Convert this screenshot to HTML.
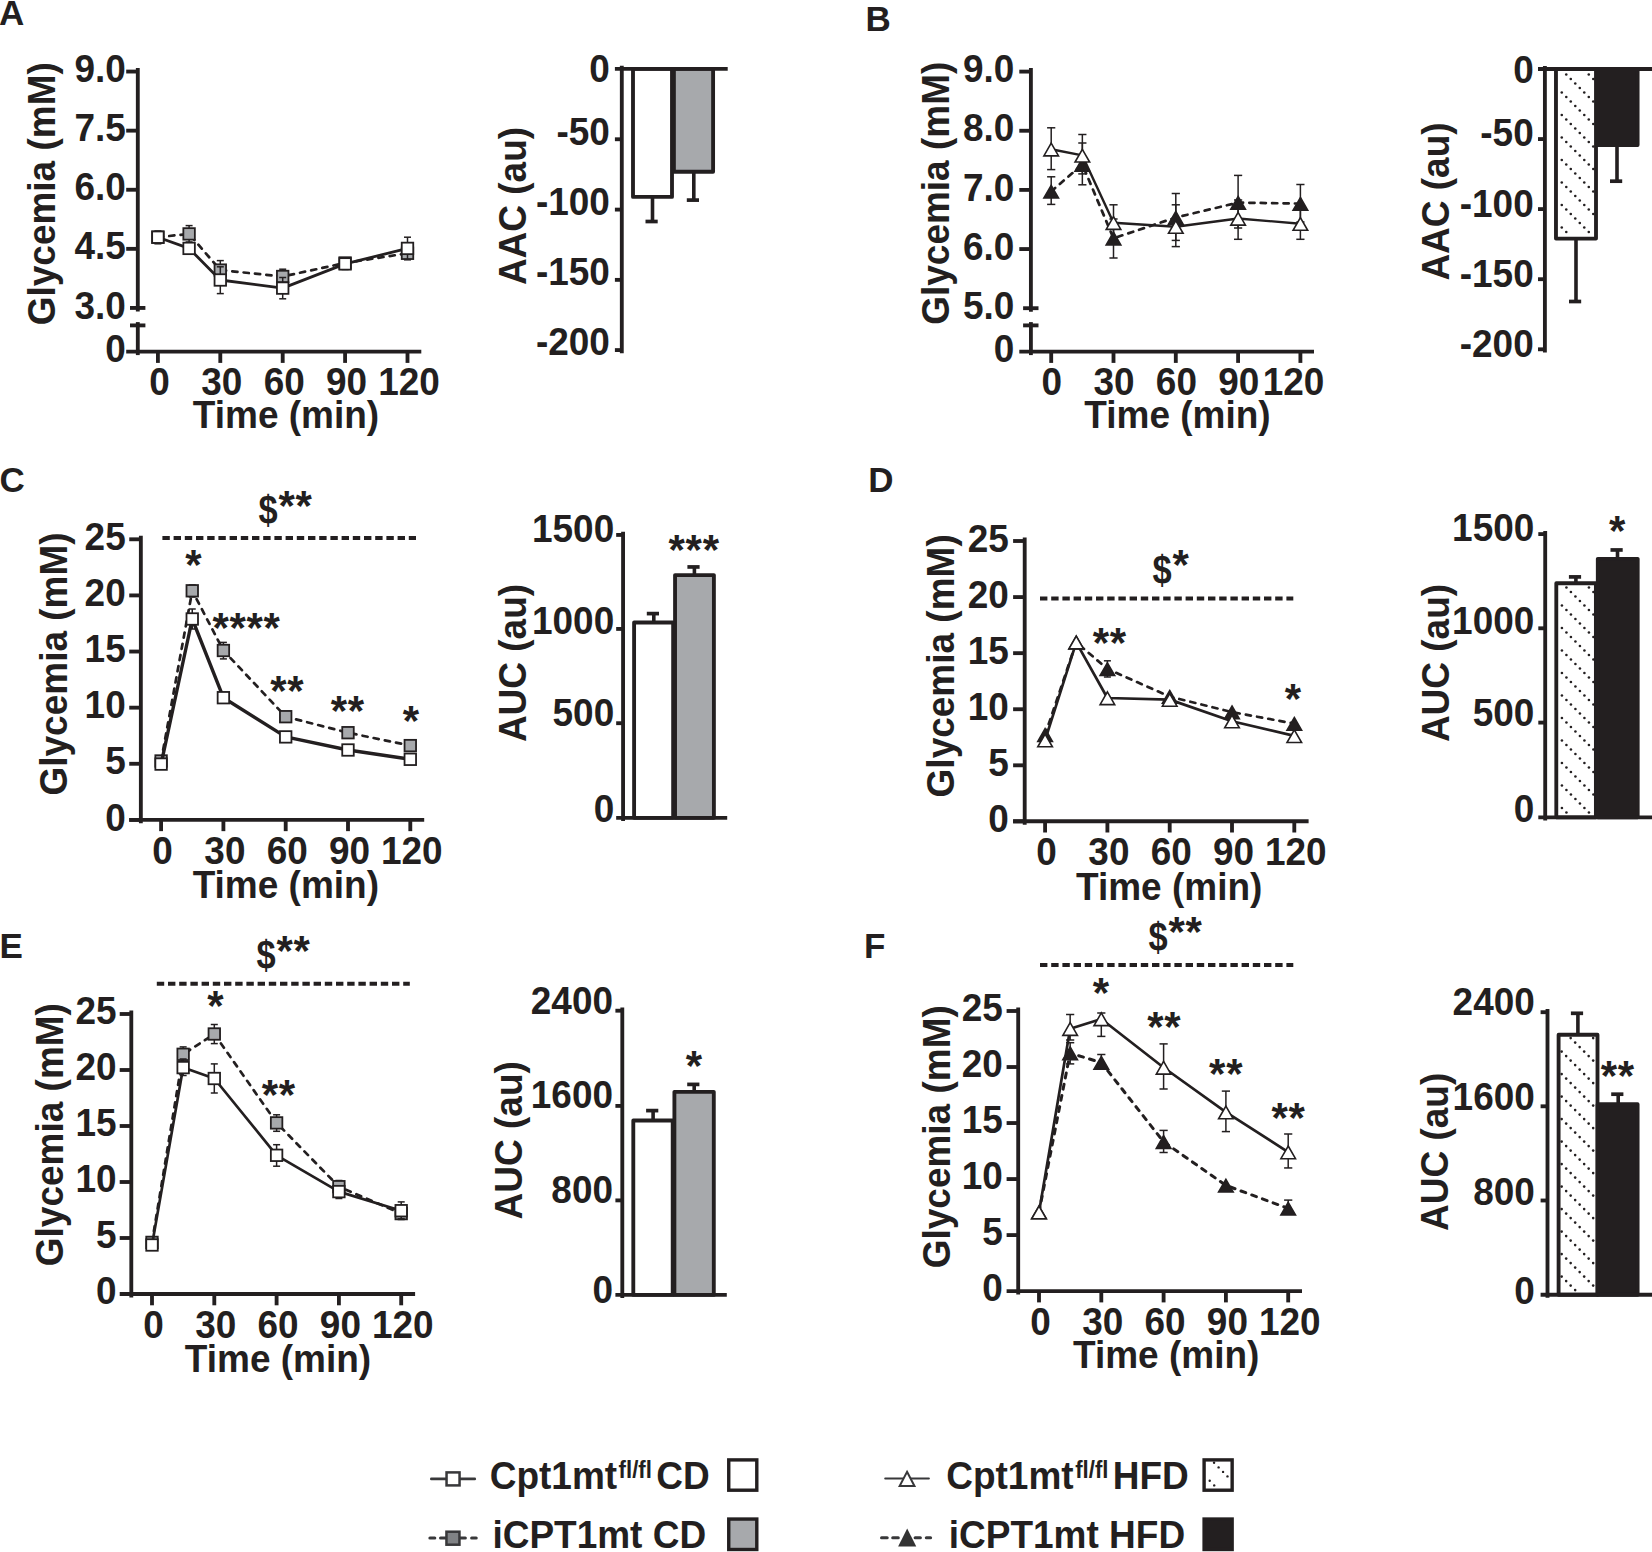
<!DOCTYPE html>
<html lang="en"><head><meta charset="utf-8"><title>Figure</title>
<style>html,body{margin:0;padding:0;background:#fff}svg{display:block}text{font-family:"Liberation Sans", Arial, Helvetica, sans-serif;font-weight:700;fill:#231f20;stroke:none}</style></head><body>
<svg width="1652" height="1552" viewBox="0 0 1652 1552" stroke="#231f20" fill="#231f20">
<rect x="0" y="0" width="1652" height="1552" fill="#fff" stroke="none"/>
<text x="-0.9" y="24.8" font-size="35" text-anchor="start">A</text>
<text x="865.6" y="30.9" font-size="35" text-anchor="start">B</text>
<text x="-0.4" y="492.3" font-size="35" text-anchor="start">C</text>
<text x="868.2" y="492.1" font-size="35" text-anchor="start">D</text>
<text x="-0.4" y="958.1" font-size="35" text-anchor="start">E</text>
<text x="864.1" y="957.8" font-size="35" text-anchor="start">F</text>
<g>
<path d="M157.9 237.2L189.1 233.9L220.3 270.1L282.7 276.5L345.1 263L407.5 253.3" fill="none" stroke-width="2.7" stroke-dasharray="5.2 6.2" stroke-linecap="round" stroke-linejoin="round"/>
<line x1="189.1" y1="225.6" x2="189.1" y2="242" stroke-width="1.5"/>
<line x1="185.6" y1="225.6" x2="192.6" y2="225.6" stroke-width="1.5"/>
<line x1="185.6" y1="242" x2="192.6" y2="242" stroke-width="1.5"/>
<line x1="220.3" y1="260.6" x2="220.3" y2="279" stroke-width="1.5"/>
<line x1="216.8" y1="260.6" x2="223.8" y2="260.6" stroke-width="1.5"/>
<line x1="216.8" y1="279" x2="223.8" y2="279" stroke-width="1.5"/>
<line x1="282.7" y1="269.2" x2="282.7" y2="284" stroke-width="1.5"/>
<line x1="279.2" y1="269.2" x2="286.2" y2="269.2" stroke-width="1.5"/>
<line x1="279.2" y1="284" x2="286.2" y2="284" stroke-width="1.5"/>
<line x1="345.1" y1="258" x2="345.1" y2="268" stroke-width="1.5"/>
<line x1="341.6" y1="258" x2="348.6" y2="258" stroke-width="1.5"/>
<line x1="341.6" y1="268" x2="348.6" y2="268" stroke-width="1.5"/>
<line x1="407.5" y1="247" x2="407.5" y2="259.6" stroke-width="1.5"/>
<line x1="404" y1="247" x2="411" y2="247" stroke-width="1.5"/>
<line x1="404" y1="259.6" x2="411" y2="259.6" stroke-width="1.5"/>
<rect x="152.15" y="231.45" width="11.5" height="11.5" fill="#a7a9ac" stroke-width="1.8"/>
<rect x="183.35" y="228.15" width="11.5" height="11.5" fill="#a7a9ac" stroke-width="1.8"/>
<rect x="214.55" y="264.35" width="11.5" height="11.5" fill="#a7a9ac" stroke-width="1.8"/>
<rect x="276.95" y="270.75" width="11.5" height="11.5" fill="#a7a9ac" stroke-width="1.8"/>
<rect x="339.35" y="257.25" width="11.5" height="11.5" fill="#a7a9ac" stroke-width="1.8"/>
<rect x="401.75" y="247.55" width="11.5" height="11.5" fill="#a7a9ac" stroke-width="1.8"/>
<path d="M157.9 237.2L189.1 248.4L220.3 280L282.7 288.1L345.1 263.9L407.5 248.4" fill="none" stroke-width="2.8" stroke-linejoin="round"/>
<line x1="157.9" y1="231" x2="157.9" y2="243.8" stroke-width="1.5"/>
<line x1="154.4" y1="231" x2="161.4" y2="231" stroke-width="1.5"/>
<line x1="154.4" y1="243.8" x2="161.4" y2="243.8" stroke-width="1.5"/>
<line x1="189.1" y1="243" x2="189.1" y2="254" stroke-width="1.5"/>
<line x1="185.6" y1="243" x2="192.6" y2="243" stroke-width="1.5"/>
<line x1="185.6" y1="254" x2="192.6" y2="254" stroke-width="1.5"/>
<line x1="220.3" y1="266.8" x2="220.3" y2="293.6" stroke-width="1.5"/>
<line x1="216.8" y1="266.8" x2="223.8" y2="266.8" stroke-width="1.5"/>
<line x1="216.8" y1="293.6" x2="223.8" y2="293.6" stroke-width="1.5"/>
<line x1="282.7" y1="277.5" x2="282.7" y2="298.8" stroke-width="1.5"/>
<line x1="279.2" y1="277.5" x2="286.2" y2="277.5" stroke-width="1.5"/>
<line x1="279.2" y1="298.8" x2="286.2" y2="298.8" stroke-width="1.5"/>
<line x1="345.1" y1="258.5" x2="345.1" y2="269.5" stroke-width="1.5"/>
<line x1="341.6" y1="258.5" x2="348.6" y2="258.5" stroke-width="1.5"/>
<line x1="341.6" y1="269.5" x2="348.6" y2="269.5" stroke-width="1.5"/>
<line x1="407.5" y1="237.2" x2="407.5" y2="259.6" stroke-width="1.5"/>
<line x1="404" y1="237.2" x2="411" y2="237.2" stroke-width="1.5"/>
<line x1="404" y1="259.6" x2="411" y2="259.6" stroke-width="1.5"/>
<rect x="152.15" y="231.45" width="11.5" height="11.5" fill="#fff" stroke-width="1.8"/>
<rect x="183.35" y="242.65" width="11.5" height="11.5" fill="#fff" stroke-width="1.8"/>
<rect x="214.55" y="274.25" width="11.5" height="11.5" fill="#fff" stroke-width="1.8"/>
<rect x="276.95" y="282.35" width="11.5" height="11.5" fill="#fff" stroke-width="1.8"/>
<rect x="339.35" y="258.15" width="11.5" height="11.5" fill="#fff" stroke-width="1.8"/>
<rect x="401.75" y="242.65" width="11.5" height="11.5" fill="#fff" stroke-width="1.8"/>
<line x1="137.8" y1="67.95" x2="137.8" y2="311.45" stroke-width="3.85"/>
<line x1="137.8" y1="322.1" x2="137.8" y2="355.1" stroke-width="3.85"/>
<line x1="130" y1="307.95" x2="145.4" y2="307.95" stroke-width="3.85"/>
<line x1="130" y1="325.4" x2="145.4" y2="325.4" stroke-width="3.85"/>
<line x1="126.2" y1="351.6" x2="421.3" y2="351.6" stroke-width="3.85"/>
<line x1="126.2" y1="71.55" x2="137.8" y2="71.55" stroke-width="3.85"/>
<text transform="translate(125.9 82.15) scale(0.96 1)" font-size="38.5" text-anchor="end">9.0</text>
<line x1="126.2" y1="130.65" x2="137.8" y2="130.65" stroke-width="3.85"/>
<text transform="translate(125.9 141.25) scale(0.96 1)" font-size="38.5" text-anchor="end">7.5</text>
<line x1="126.2" y1="189.75" x2="137.8" y2="189.75" stroke-width="3.85"/>
<text transform="translate(125.9 200.35) scale(0.96 1)" font-size="38.5" text-anchor="end">6.0</text>
<line x1="126.2" y1="248.85" x2="137.8" y2="248.85" stroke-width="3.85"/>
<text transform="translate(125.9 259.45) scale(0.96 1)" font-size="38.5" text-anchor="end">4.5</text>
<text transform="translate(125.9 318.55) scale(0.96 1)" font-size="38.5" text-anchor="end">3.0</text>
<text transform="translate(125.9 362.2) scale(0.96 1)" font-size="38.5" text-anchor="end">0</text>
<line x1="157.9" y1="351.6" x2="157.9" y2="362.9" stroke-width="3.85"/>
<text transform="translate(159.4 395.4) scale(0.96 1)" font-size="38.5" text-anchor="middle">0</text>
<line x1="220.3" y1="351.6" x2="220.3" y2="362.9" stroke-width="3.85"/>
<text transform="translate(221.8 395.4) scale(0.96 1)" font-size="38.5" text-anchor="middle">30</text>
<line x1="282.7" y1="351.6" x2="282.7" y2="362.9" stroke-width="3.85"/>
<text transform="translate(284.2 395.4) scale(0.96 1)" font-size="38.5" text-anchor="middle">60</text>
<line x1="345.1" y1="351.6" x2="345.1" y2="362.9" stroke-width="3.85"/>
<text transform="translate(346.6 395.4) scale(0.96 1)" font-size="38.5" text-anchor="middle">90</text>
<line x1="407.5" y1="351.6" x2="407.5" y2="362.9" stroke-width="3.85"/>
<text transform="translate(409 395.4) scale(0.96 1)" font-size="38.5" text-anchor="middle">120</text>
<text transform="translate(54.8 62.2) rotate(-90) scale(1 1.04)" font-size="37" text-anchor="end">Glycemia (mM)</text>
<text transform="translate(286 427.8) scale(1 1.04)" font-size="37" text-anchor="middle">Time (min)</text>
</g>
<g>
<path d="M1051.2 191.4L1082.35 164.5L1113.5 238.3L1175.8 217.5L1238.1 202.6L1300.4 203.6" fill="none" stroke-width="2.7" stroke-dasharray="5.2 6.2" stroke-linecap="round" stroke-linejoin="round"/>
<line x1="1051.2" y1="176.8" x2="1051.2" y2="204.4" stroke-width="1.5"/>
<line x1="1047.1" y1="176.8" x2="1055.3" y2="176.8" stroke-width="1.5"/>
<line x1="1047.1" y1="204.4" x2="1055.3" y2="204.4" stroke-width="1.5"/>
<line x1="1082.35" y1="143" x2="1082.35" y2="184.8" stroke-width="1.5"/>
<line x1="1078.25" y1="143" x2="1086.45" y2="143" stroke-width="1.5"/>
<line x1="1078.25" y1="184.8" x2="1086.45" y2="184.8" stroke-width="1.5"/>
<line x1="1113.5" y1="219" x2="1113.5" y2="258" stroke-width="1.5"/>
<line x1="1109.4" y1="219" x2="1117.6" y2="219" stroke-width="1.5"/>
<line x1="1109.4" y1="258" x2="1117.6" y2="258" stroke-width="1.5"/>
<line x1="1175.8" y1="193.5" x2="1175.8" y2="240.4" stroke-width="1.5"/>
<line x1="1171.7" y1="193.5" x2="1179.9" y2="193.5" stroke-width="1.5"/>
<line x1="1171.7" y1="240.4" x2="1179.9" y2="240.4" stroke-width="1.5"/>
<line x1="1238.1" y1="175.4" x2="1238.1" y2="228" stroke-width="1.5"/>
<line x1="1234" y1="175.4" x2="1242.2" y2="175.4" stroke-width="1.5"/>
<line x1="1234" y1="228" x2="1242.2" y2="228" stroke-width="1.5"/>
<line x1="1300.4" y1="184.5" x2="1300.4" y2="222" stroke-width="1.5"/>
<line x1="1296.3" y1="184.5" x2="1304.5" y2="184.5" stroke-width="1.5"/>
<line x1="1296.3" y1="222" x2="1304.5" y2="222" stroke-width="1.5"/>
<path d="M1051.2 185.3L1058.5 198L1043.9 198Z" fill="#231f20" stroke-width="1.6" stroke-linejoin="miter"/>
<path d="M1082.35 158.4L1089.65 171.1L1075.05 171.1Z" fill="#231f20" stroke-width="1.6" stroke-linejoin="miter"/>
<path d="M1113.5 232.2L1120.8 244.9L1106.2 244.9Z" fill="#231f20" stroke-width="1.6" stroke-linejoin="miter"/>
<path d="M1175.8 211.4L1183.1 224.1L1168.5 224.1Z" fill="#231f20" stroke-width="1.6" stroke-linejoin="miter"/>
<path d="M1238.1 196.5L1245.4 209.2L1230.8 209.2Z" fill="#231f20" stroke-width="1.6" stroke-linejoin="miter"/>
<path d="M1300.4 197.5L1307.7 210.2L1293.1 210.2Z" fill="#231f20" stroke-width="1.6" stroke-linejoin="miter"/>
<path d="M1051.2 149.3L1082.35 155.4L1113.5 222.8L1175.8 226.7L1238.1 218.5L1300.4 223.7" fill="none" stroke-width="2.4" stroke-linejoin="round"/>
<line x1="1051.2" y1="127.8" x2="1051.2" y2="169.6" stroke-width="1.5"/>
<line x1="1047.1" y1="127.8" x2="1055.3" y2="127.8" stroke-width="1.5"/>
<line x1="1047.1" y1="169.6" x2="1055.3" y2="169.6" stroke-width="1.5"/>
<line x1="1082.35" y1="134.5" x2="1082.35" y2="173.9" stroke-width="1.5"/>
<line x1="1078.25" y1="134.5" x2="1086.45" y2="134.5" stroke-width="1.5"/>
<line x1="1078.25" y1="173.9" x2="1086.45" y2="173.9" stroke-width="1.5"/>
<line x1="1113.5" y1="204.8" x2="1113.5" y2="240" stroke-width="1.5"/>
<line x1="1109.4" y1="204.8" x2="1117.6" y2="204.8" stroke-width="1.5"/>
<line x1="1109.4" y1="240" x2="1117.6" y2="240" stroke-width="1.5"/>
<line x1="1175.8" y1="204.8" x2="1175.8" y2="246.6" stroke-width="1.5"/>
<line x1="1171.7" y1="204.8" x2="1179.9" y2="204.8" stroke-width="1.5"/>
<line x1="1171.7" y1="246.6" x2="1179.9" y2="246.6" stroke-width="1.5"/>
<line x1="1238.1" y1="200" x2="1238.1" y2="239.3" stroke-width="1.5"/>
<line x1="1234" y1="200" x2="1242.2" y2="200" stroke-width="1.5"/>
<line x1="1234" y1="239.3" x2="1242.2" y2="239.3" stroke-width="1.5"/>
<line x1="1300.4" y1="206" x2="1300.4" y2="239.3" stroke-width="1.5"/>
<line x1="1296.3" y1="206" x2="1304.5" y2="206" stroke-width="1.5"/>
<line x1="1296.3" y1="239.3" x2="1304.5" y2="239.3" stroke-width="1.5"/>
<path d="M1051.2 143.2L1058.5 155.9L1043.9 155.9Z" fill="#fff" stroke-width="1.6" stroke-linejoin="miter"/>
<path d="M1082.35 149.3L1089.65 162L1075.05 162Z" fill="#fff" stroke-width="1.6" stroke-linejoin="miter"/>
<path d="M1113.5 216.7L1120.8 229.4L1106.2 229.4Z" fill="#fff" stroke-width="1.6" stroke-linejoin="miter"/>
<path d="M1175.8 220.6L1183.1 233.3L1168.5 233.3Z" fill="#fff" stroke-width="1.6" stroke-linejoin="miter"/>
<path d="M1238.1 212.4L1245.4 225.1L1230.8 225.1Z" fill="#fff" stroke-width="1.6" stroke-linejoin="miter"/>
<path d="M1300.4 217.6L1307.7 230.3L1293.1 230.3Z" fill="#fff" stroke-width="1.6" stroke-linejoin="miter"/>
<line x1="1030.9" y1="68" x2="1030.9" y2="311.7" stroke-width="3.85"/>
<line x1="1030.9" y1="322.1" x2="1030.9" y2="355.1" stroke-width="3.85"/>
<line x1="1023.1" y1="308.2" x2="1038.5" y2="308.2" stroke-width="3.85"/>
<line x1="1023.1" y1="325.4" x2="1038.5" y2="325.4" stroke-width="3.85"/>
<line x1="1019.3" y1="351.6" x2="1314" y2="351.6" stroke-width="3.85"/>
<line x1="1019.3" y1="71.6" x2="1030.9" y2="71.6" stroke-width="3.85"/>
<text transform="translate(1014.25 82.2) scale(0.96 1)" font-size="38.5" text-anchor="end">9.0</text>
<line x1="1019.3" y1="130.75" x2="1030.9" y2="130.75" stroke-width="3.85"/>
<text transform="translate(1014.25 141.35) scale(0.96 1)" font-size="38.5" text-anchor="end">8.0</text>
<line x1="1019.3" y1="189.9" x2="1030.9" y2="189.9" stroke-width="3.85"/>
<text transform="translate(1014.25 200.5) scale(0.96 1)" font-size="38.5" text-anchor="end">7.0</text>
<line x1="1019.3" y1="249.05" x2="1030.9" y2="249.05" stroke-width="3.85"/>
<text transform="translate(1014.25 259.65) scale(0.96 1)" font-size="38.5" text-anchor="end">6.0</text>
<text transform="translate(1014.25 318.8) scale(0.96 1)" font-size="38.5" text-anchor="end">5.0</text>
<text transform="translate(1014.25 362.2) scale(0.96 1)" font-size="38.5" text-anchor="end">0</text>
<line x1="1051.2" y1="351.6" x2="1051.2" y2="362.9" stroke-width="3.85"/>
<text transform="translate(1051.8 395.4) scale(0.96 1)" font-size="38.5" text-anchor="middle">0</text>
<line x1="1113.5" y1="351.6" x2="1113.5" y2="362.9" stroke-width="3.85"/>
<text transform="translate(1114.1 395.4) scale(0.96 1)" font-size="38.5" text-anchor="middle">30</text>
<line x1="1175.8" y1="351.6" x2="1175.8" y2="362.9" stroke-width="3.85"/>
<text transform="translate(1176.4 395.4) scale(0.96 1)" font-size="38.5" text-anchor="middle">60</text>
<line x1="1238.1" y1="351.6" x2="1238.1" y2="362.9" stroke-width="3.85"/>
<text transform="translate(1238.7 395.4) scale(0.96 1)" font-size="38.5" text-anchor="middle">90</text>
<line x1="1300.4" y1="351.6" x2="1300.4" y2="362.9" stroke-width="3.85"/>
<text transform="translate(1293.6 395.4) scale(0.96 1)" font-size="38.5" text-anchor="middle">120</text>
<text transform="translate(949 61.7) rotate(-90) scale(1 1.04)" font-size="37" text-anchor="end">Glycemia (mM)</text>
<text transform="translate(1177.5 427.5) scale(1 1.04)" font-size="37" text-anchor="middle">Time (min)</text>
</g>
<g>
<path d="M161.1 761L192.25 590.8L223.4 650.5L285.7 716.7L348 732.7L410.3 745.6" fill="none" stroke-width="2.7" stroke-dasharray="5.2 6.2" stroke-linecap="round" stroke-linejoin="round"/>
<line x1="192.25" y1="585" x2="192.25" y2="597" stroke-width="1.5"/>
<line x1="188.75" y1="585" x2="195.75" y2="585" stroke-width="1.5"/>
<line x1="188.75" y1="597" x2="195.75" y2="597" stroke-width="1.5"/>
<line x1="223.4" y1="642.4" x2="223.4" y2="658.9" stroke-width="1.5"/>
<line x1="219.9" y1="642.4" x2="226.9" y2="642.4" stroke-width="1.5"/>
<line x1="219.9" y1="658.9" x2="226.9" y2="658.9" stroke-width="1.5"/>
<rect x="155.35" y="755.25" width="11.5" height="11.5" fill="#a7a9ac" stroke-width="1.8"/>
<rect x="186.5" y="585.05" width="11.5" height="11.5" fill="#a7a9ac" stroke-width="1.8"/>
<rect x="217.65" y="644.75" width="11.5" height="11.5" fill="#a7a9ac" stroke-width="1.8"/>
<rect x="279.95" y="710.95" width="11.5" height="11.5" fill="#a7a9ac" stroke-width="1.8"/>
<rect x="342.25" y="726.95" width="11.5" height="11.5" fill="#a7a9ac" stroke-width="1.8"/>
<rect x="404.55" y="739.85" width="11.5" height="11.5" fill="#a7a9ac" stroke-width="1.8"/>
<path d="M161.1 764.1L192.25 619L223.4 697.7L285.7 736.9L348 750L410.3 759.3" fill="none" stroke-width="3.4" stroke-linejoin="round"/>
<line x1="192.25" y1="609" x2="192.25" y2="629" stroke-width="1.5"/>
<line x1="188.75" y1="609" x2="195.75" y2="609" stroke-width="1.5"/>
<line x1="188.75" y1="629" x2="195.75" y2="629" stroke-width="1.5"/>
<rect x="155.35" y="758.35" width="11.5" height="11.5" fill="#fff" stroke-width="1.8"/>
<rect x="186.5" y="613.25" width="11.5" height="11.5" fill="#fff" stroke-width="1.8"/>
<rect x="217.65" y="691.95" width="11.5" height="11.5" fill="#fff" stroke-width="1.8"/>
<rect x="279.95" y="731.15" width="11.5" height="11.5" fill="#fff" stroke-width="1.8"/>
<rect x="342.25" y="744.25" width="11.5" height="11.5" fill="#fff" stroke-width="1.8"/>
<rect x="404.55" y="753.55" width="11.5" height="11.5" fill="#fff" stroke-width="1.8"/>
<line x1="140.85" y1="535.7" x2="140.85" y2="823.35" stroke-width="3.85"/>
<line x1="129.25" y1="819.85" x2="424.2" y2="819.85" stroke-width="3.85"/>
<line x1="129.25" y1="539.3" x2="140.85" y2="539.3" stroke-width="3.85"/>
<text transform="translate(125.7 549.9) scale(0.96 1)" font-size="38.5" text-anchor="end">25</text>
<line x1="129.25" y1="595.42" x2="140.85" y2="595.42" stroke-width="3.85"/>
<text transform="translate(125.7 606.02) scale(0.96 1)" font-size="38.5" text-anchor="end">20</text>
<line x1="129.25" y1="651.54" x2="140.85" y2="651.54" stroke-width="3.85"/>
<text transform="translate(125.7 662.14) scale(0.96 1)" font-size="38.5" text-anchor="end">15</text>
<line x1="129.25" y1="707.66" x2="140.85" y2="707.66" stroke-width="3.85"/>
<text transform="translate(125.7 718.26) scale(0.96 1)" font-size="38.5" text-anchor="end">10</text>
<line x1="129.25" y1="763.78" x2="140.85" y2="763.78" stroke-width="3.85"/>
<text transform="translate(125.7 774.38) scale(0.96 1)" font-size="38.5" text-anchor="end">5</text>
<line x1="129.25" y1="819.9" x2="140.85" y2="819.9" stroke-width="3.85"/>
<text transform="translate(125.7 830.5) scale(0.96 1)" font-size="38.5" text-anchor="end">0</text>
<line x1="161.1" y1="819.85" x2="161.1" y2="831.15" stroke-width="3.85"/>
<text transform="translate(162.6 863.65) scale(0.96 1)" font-size="38.5" text-anchor="middle">0</text>
<line x1="223.4" y1="819.85" x2="223.4" y2="831.15" stroke-width="3.85"/>
<text transform="translate(224.9 863.65) scale(0.96 1)" font-size="38.5" text-anchor="middle">30</text>
<line x1="285.7" y1="819.85" x2="285.7" y2="831.15" stroke-width="3.85"/>
<text transform="translate(287.2 863.65) scale(0.96 1)" font-size="38.5" text-anchor="middle">60</text>
<line x1="348" y1="819.85" x2="348" y2="831.15" stroke-width="3.85"/>
<text transform="translate(349.5 863.65) scale(0.96 1)" font-size="38.5" text-anchor="middle">90</text>
<line x1="410.3" y1="819.85" x2="410.3" y2="831.15" stroke-width="3.85"/>
<text transform="translate(411.8 863.65) scale(0.96 1)" font-size="38.5" text-anchor="middle">120</text>
<text transform="translate(66.7 532.4) rotate(-90) scale(1 1.04)" font-size="37" text-anchor="end">Glycemia (mM)</text>
<text transform="translate(285.8 897.8) scale(1 1.04)" font-size="37" text-anchor="middle">Time (min)</text>
<text x="193.75" y="578.98" font-size="42" text-anchor="middle" letter-spacing="0.7">*</text>
<text x="246.55" y="642.48" font-size="42" text-anchor="middle" letter-spacing="0.7">****</text>
<text x="287.35" y="705.28" font-size="42" text-anchor="middle" letter-spacing="0.7">**</text>
<text x="347.85" y="724.78" font-size="42" text-anchor="middle" letter-spacing="0.7">**</text>
<text x="411.15" y="734.88" font-size="42" text-anchor="middle" letter-spacing="0.7">*</text>
<line x1="162.4" y1="538.1" x2="416" y2="538.1" stroke-width="4" stroke-dasharray="7.4 3.8"/>
<text transform="translate(258.45 524.2) scale(0.86 1)" font-size="40" text-anchor="start">$</text>
<text x="295.47" y="519.63" font-size="42" text-anchor="middle" letter-spacing="0.7">**</text>
</g>
<g>
<path d="M1045.1 734.8L1076.25 642.3L1107.4 668.9L1169.7 696.6L1232 712.1L1294.3 723.6" fill="none" stroke-width="2.7" stroke-dasharray="5.2 6.2" stroke-linecap="round" stroke-linejoin="round"/>
<line x1="1107.4" y1="660.8" x2="1107.4" y2="677" stroke-width="1.5"/>
<line x1="1103.9" y1="660.8" x2="1110.9" y2="660.8" stroke-width="1.5"/>
<line x1="1103.9" y1="677" x2="1110.9" y2="677" stroke-width="1.5"/>
<path d="M1045.1 728.7L1052.4 741.4L1037.8 741.4Z" fill="#231f20" stroke-width="1.6" stroke-linejoin="miter"/>
<path d="M1076.25 636.2L1083.55 648.9L1068.95 648.9Z" fill="#231f20" stroke-width="1.6" stroke-linejoin="miter"/>
<path d="M1107.4 662.8L1114.7 675.5L1100.1 675.5Z" fill="#231f20" stroke-width="1.6" stroke-linejoin="miter"/>
<path d="M1169.7 690.5L1177 703.2L1162.4 703.2Z" fill="#231f20" stroke-width="1.6" stroke-linejoin="miter"/>
<path d="M1232 706L1239.3 718.7L1224.7 718.7Z" fill="#231f20" stroke-width="1.6" stroke-linejoin="miter"/>
<path d="M1294.3 717.5L1301.6 730.2L1287 730.2Z" fill="#231f20" stroke-width="1.6" stroke-linejoin="miter"/>
<path d="M1045.1 740.2L1076.25 642.3L1107.4 698L1169.7 699.6L1232 721.2L1294.3 735.9" fill="none" stroke-width="2.7" stroke-linejoin="round"/>
<path d="M1045.1 734.1L1052.4 746.8L1037.8 746.8Z" fill="#fff" stroke-width="1.6" stroke-linejoin="miter"/>
<path d="M1076.25 636.2L1083.55 648.9L1068.95 648.9Z" fill="#fff" stroke-width="1.6" stroke-linejoin="miter"/>
<path d="M1107.4 691.9L1114.7 704.6L1100.1 704.6Z" fill="#fff" stroke-width="1.6" stroke-linejoin="miter"/>
<path d="M1169.7 693.5L1177 706.2L1162.4 706.2Z" fill="#fff" stroke-width="1.6" stroke-linejoin="miter"/>
<path d="M1232 715.1L1239.3 727.8L1224.7 727.8Z" fill="#fff" stroke-width="1.6" stroke-linejoin="miter"/>
<path d="M1294.3 729.8L1301.6 742.5L1287 742.5Z" fill="#fff" stroke-width="1.6" stroke-linejoin="miter"/>
<line x1="1024.7" y1="537.4" x2="1024.7" y2="824.7" stroke-width="3.85"/>
<line x1="1013.1" y1="821.2" x2="1308.6" y2="821.2" stroke-width="3.85"/>
<line x1="1013.1" y1="541" x2="1024.7" y2="541" stroke-width="3.85"/>
<text transform="translate(1008.9 551.6) scale(0.96 1)" font-size="38.5" text-anchor="end">25</text>
<line x1="1013.1" y1="597.08" x2="1024.7" y2="597.08" stroke-width="3.85"/>
<text transform="translate(1008.9 607.68) scale(0.96 1)" font-size="38.5" text-anchor="end">20</text>
<line x1="1013.1" y1="653.16" x2="1024.7" y2="653.16" stroke-width="3.85"/>
<text transform="translate(1008.9 663.76) scale(0.96 1)" font-size="38.5" text-anchor="end">15</text>
<line x1="1013.1" y1="709.24" x2="1024.7" y2="709.24" stroke-width="3.85"/>
<text transform="translate(1008.9 719.84) scale(0.96 1)" font-size="38.5" text-anchor="end">10</text>
<line x1="1013.1" y1="765.32" x2="1024.7" y2="765.32" stroke-width="3.85"/>
<text transform="translate(1008.9 775.92) scale(0.96 1)" font-size="38.5" text-anchor="end">5</text>
<line x1="1013.1" y1="821.4" x2="1024.7" y2="821.4" stroke-width="3.85"/>
<text transform="translate(1008.9 832) scale(0.96 1)" font-size="38.5" text-anchor="end">0</text>
<line x1="1045.1" y1="821.2" x2="1045.1" y2="832.5" stroke-width="3.85"/>
<text transform="translate(1046.6 865) scale(0.96 1)" font-size="38.5" text-anchor="middle">0</text>
<line x1="1107.4" y1="821.2" x2="1107.4" y2="832.5" stroke-width="3.85"/>
<text transform="translate(1108.9 865) scale(0.96 1)" font-size="38.5" text-anchor="middle">30</text>
<line x1="1169.7" y1="821.2" x2="1169.7" y2="832.5" stroke-width="3.85"/>
<text transform="translate(1171.2 865) scale(0.96 1)" font-size="38.5" text-anchor="middle">60</text>
<line x1="1232" y1="821.2" x2="1232" y2="832.5" stroke-width="3.85"/>
<text transform="translate(1233.5 865) scale(0.96 1)" font-size="38.5" text-anchor="middle">90</text>
<line x1="1294.3" y1="821.2" x2="1294.3" y2="832.5" stroke-width="3.85"/>
<text transform="translate(1295.8 865) scale(0.96 1)" font-size="38.5" text-anchor="middle">120</text>
<text transform="translate(954 534.3) rotate(-90) scale(1 1.04)" font-size="37" text-anchor="end">Glycemia (mM)</text>
<text transform="translate(1169.2 900) scale(1 1.04)" font-size="37" text-anchor="middle">Time (min)</text>
<text x="1109.75" y="657.38" font-size="42" text-anchor="middle" letter-spacing="0.7">**</text>
<text x="1293.35" y="713.48" font-size="42" text-anchor="middle" letter-spacing="0.7">*</text>
<line x1="1040" y1="598.6" x2="1293.3" y2="598.6" stroke-width="4" stroke-dasharray="7.4 3.8"/>
<text transform="translate(1152.55 583.9) scale(0.86 1)" font-size="40" text-anchor="start">$</text>
<text x="1181.05" y="579.33" font-size="42" text-anchor="middle" letter-spacing="0.7">*</text>
</g>
<g>
<path d="M152 1242.4L183.15 1054.3L214.3 1034L276.6 1122.9L338.9 1186.7L401.2 1213.6" fill="none" stroke-width="2.7" stroke-dasharray="5.2 6.2" stroke-linecap="round" stroke-linejoin="round"/>
<line x1="183.15" y1="1046.9" x2="183.15" y2="1062" stroke-width="1.5"/>
<line x1="179.65" y1="1046.9" x2="186.65" y2="1046.9" stroke-width="1.5"/>
<line x1="179.65" y1="1062" x2="186.65" y2="1062" stroke-width="1.5"/>
<line x1="214.3" y1="1024.5" x2="214.3" y2="1043.6" stroke-width="1.5"/>
<line x1="210.8" y1="1024.5" x2="217.8" y2="1024.5" stroke-width="1.5"/>
<line x1="210.8" y1="1043.6" x2="217.8" y2="1043.6" stroke-width="1.5"/>
<line x1="276.6" y1="1114.8" x2="276.6" y2="1131.3" stroke-width="1.5"/>
<line x1="273.1" y1="1114.8" x2="280.1" y2="1114.8" stroke-width="1.5"/>
<line x1="273.1" y1="1131.3" x2="280.1" y2="1131.3" stroke-width="1.5"/>
<line x1="338.9" y1="1180.5" x2="338.9" y2="1193" stroke-width="1.5"/>
<line x1="335.4" y1="1180.5" x2="342.4" y2="1180.5" stroke-width="1.5"/>
<line x1="335.4" y1="1193" x2="342.4" y2="1193" stroke-width="1.5"/>
<line x1="401.2" y1="1207" x2="401.2" y2="1219.5" stroke-width="1.5"/>
<line x1="397.7" y1="1207" x2="404.7" y2="1207" stroke-width="1.5"/>
<line x1="397.7" y1="1219.5" x2="404.7" y2="1219.5" stroke-width="1.5"/>
<rect x="146.25" y="1236.65" width="11.5" height="11.5" fill="#a7a9ac" stroke-width="1.8"/>
<rect x="177.4" y="1048.55" width="11.5" height="11.5" fill="#a7a9ac" stroke-width="1.8"/>
<rect x="208.55" y="1028.25" width="11.5" height="11.5" fill="#a7a9ac" stroke-width="1.8"/>
<rect x="270.85" y="1117.15" width="11.5" height="11.5" fill="#a7a9ac" stroke-width="1.8"/>
<rect x="333.15" y="1180.95" width="11.5" height="11.5" fill="#a7a9ac" stroke-width="1.8"/>
<rect x="395.45" y="1207.85" width="11.5" height="11.5" fill="#a7a9ac" stroke-width="1.8"/>
<path d="M152 1245L183.15 1067.6L214.3 1078.5L276.6 1155.3L338.9 1191.6L401.2 1210.7" fill="none" stroke-width="2.7" stroke-linejoin="round"/>
<line x1="183.15" y1="1059" x2="183.15" y2="1075.5" stroke-width="1.5"/>
<line x1="179.65" y1="1059" x2="186.65" y2="1059" stroke-width="1.5"/>
<line x1="179.65" y1="1075.5" x2="186.65" y2="1075.5" stroke-width="1.5"/>
<line x1="214.3" y1="1063.9" x2="214.3" y2="1093" stroke-width="1.5"/>
<line x1="210.8" y1="1063.9" x2="217.8" y2="1063.9" stroke-width="1.5"/>
<line x1="210.8" y1="1093" x2="217.8" y2="1093" stroke-width="1.5"/>
<line x1="276.6" y1="1144.7" x2="276.6" y2="1166.2" stroke-width="1.5"/>
<line x1="273.1" y1="1144.7" x2="280.1" y2="1144.7" stroke-width="1.5"/>
<line x1="273.1" y1="1166.2" x2="280.1" y2="1166.2" stroke-width="1.5"/>
<line x1="338.9" y1="1186" x2="338.9" y2="1198.5" stroke-width="1.5"/>
<line x1="335.4" y1="1186" x2="342.4" y2="1186" stroke-width="1.5"/>
<line x1="335.4" y1="1198.5" x2="342.4" y2="1198.5" stroke-width="1.5"/>
<line x1="401.2" y1="1201.9" x2="401.2" y2="1218.8" stroke-width="1.5"/>
<line x1="397.7" y1="1201.9" x2="404.7" y2="1201.9" stroke-width="1.5"/>
<line x1="397.7" y1="1218.8" x2="404.7" y2="1218.8" stroke-width="1.5"/>
<rect x="146.25" y="1239.25" width="11.5" height="11.5" fill="#fff" stroke-width="1.8"/>
<rect x="177.4" y="1061.85" width="11.5" height="11.5" fill="#fff" stroke-width="1.8"/>
<rect x="208.55" y="1072.75" width="11.5" height="11.5" fill="#fff" stroke-width="1.8"/>
<rect x="270.85" y="1149.55" width="11.5" height="11.5" fill="#fff" stroke-width="1.8"/>
<rect x="333.15" y="1185.85" width="11.5" height="11.5" fill="#fff" stroke-width="1.8"/>
<rect x="395.45" y="1204.95" width="11.5" height="11.5" fill="#fff" stroke-width="1.8"/>
<line x1="131.3" y1="1010.4" x2="131.3" y2="1297.5" stroke-width="3.85"/>
<line x1="119.7" y1="1294" x2="415.1" y2="1294" stroke-width="3.85"/>
<line x1="119.7" y1="1014" x2="131.3" y2="1014" stroke-width="3.85"/>
<text transform="translate(116.5 1024.2) scale(0.96 1)" font-size="38.5" text-anchor="end">25</text>
<line x1="119.7" y1="1070" x2="131.3" y2="1070" stroke-width="3.85"/>
<text transform="translate(116.5 1080.2) scale(0.96 1)" font-size="38.5" text-anchor="end">20</text>
<line x1="119.7" y1="1126" x2="131.3" y2="1126" stroke-width="3.85"/>
<text transform="translate(116.5 1136.2) scale(0.96 1)" font-size="38.5" text-anchor="end">15</text>
<line x1="119.7" y1="1182" x2="131.3" y2="1182" stroke-width="3.85"/>
<text transform="translate(116.5 1192.2) scale(0.96 1)" font-size="38.5" text-anchor="end">10</text>
<line x1="119.7" y1="1238" x2="131.3" y2="1238" stroke-width="3.85"/>
<text transform="translate(116.5 1248.2) scale(0.96 1)" font-size="38.5" text-anchor="end">5</text>
<text transform="translate(116.5 1304.2) scale(0.96 1)" font-size="38.5" text-anchor="end">0</text>
<line x1="152" y1="1294" x2="152" y2="1305.3" stroke-width="3.85"/>
<text transform="translate(153.5 1337.8) scale(0.96 1)" font-size="38.5" text-anchor="middle">0</text>
<line x1="214.3" y1="1294" x2="214.3" y2="1305.3" stroke-width="3.85"/>
<text transform="translate(215.8 1337.8) scale(0.96 1)" font-size="38.5" text-anchor="middle">30</text>
<line x1="276.6" y1="1294" x2="276.6" y2="1305.3" stroke-width="3.85"/>
<text transform="translate(278.1 1337.8) scale(0.96 1)" font-size="38.5" text-anchor="middle">60</text>
<line x1="338.9" y1="1294" x2="338.9" y2="1305.3" stroke-width="3.85"/>
<text transform="translate(340.4 1337.8) scale(0.96 1)" font-size="38.5" text-anchor="middle">90</text>
<line x1="401.2" y1="1294" x2="401.2" y2="1305.3" stroke-width="3.85"/>
<text transform="translate(402.7 1337.8) scale(0.96 1)" font-size="38.5" text-anchor="middle">120</text>
<text transform="translate(63 1003.1) rotate(-90) scale(1 1.04)" font-size="37" text-anchor="end">Glycemia (mM)</text>
<text transform="translate(278 1372.3) scale(1 1.04)" font-size="37" text-anchor="middle">Time (min)</text>
<text x="215.65" y="1019.68" font-size="42" text-anchor="middle" letter-spacing="0.7">*</text>
<text x="278.75" y="1108.68" font-size="42" text-anchor="middle" letter-spacing="0.7">**</text>
<line x1="156.8" y1="983.7" x2="409.8" y2="983.7" stroke-width="4" stroke-dasharray="7.4 3.8"/>
<text transform="translate(256.45 969.2) scale(0.86 1)" font-size="40" text-anchor="start">$</text>
<text x="293.47" y="964.63" font-size="42" text-anchor="middle" letter-spacing="0.7">**</text>
</g>
<g>
<path d="M1039 1212.2L1070.15 1053.1L1101.3 1062.6L1163.6 1141.8L1225.9 1185.4L1288.2 1208.4" fill="none" stroke-width="3" stroke-dasharray="5.0 6.4" stroke-linecap="round" stroke-linejoin="round"/>
<line x1="1070.15" y1="1042.7" x2="1070.15" y2="1063.9" stroke-width="1.5"/>
<line x1="1066.05" y1="1042.7" x2="1074.25" y2="1042.7" stroke-width="1.5"/>
<line x1="1066.05" y1="1063.9" x2="1074.25" y2="1063.9" stroke-width="1.5"/>
<line x1="1101.3" y1="1054.5" x2="1101.3" y2="1068" stroke-width="1.5"/>
<line x1="1097.2" y1="1054.5" x2="1105.4" y2="1054.5" stroke-width="1.5"/>
<line x1="1097.2" y1="1068" x2="1105.4" y2="1068" stroke-width="1.5"/>
<line x1="1163.6" y1="1130.4" x2="1163.6" y2="1152.5" stroke-width="1.5"/>
<line x1="1159.5" y1="1130.4" x2="1167.7" y2="1130.4" stroke-width="1.5"/>
<line x1="1159.5" y1="1152.5" x2="1167.7" y2="1152.5" stroke-width="1.5"/>
<line x1="1288.2" y1="1200.1" x2="1288.2" y2="1213" stroke-width="1.5"/>
<line x1="1284.1" y1="1200.1" x2="1292.3" y2="1200.1" stroke-width="1.5"/>
<line x1="1284.1" y1="1213" x2="1292.3" y2="1213" stroke-width="1.5"/>
<path d="M1039 1206.1L1046.3 1218.8L1031.7 1218.8Z" fill="#231f20" stroke-width="1.6" stroke-linejoin="miter"/>
<path d="M1070.15 1047L1077.45 1059.7L1062.85 1059.7Z" fill="#231f20" stroke-width="1.6" stroke-linejoin="miter"/>
<path d="M1101.3 1056.5L1108.6 1069.2L1094 1069.2Z" fill="#231f20" stroke-width="1.6" stroke-linejoin="miter"/>
<path d="M1163.6 1135.7L1170.9 1148.4L1156.3 1148.4Z" fill="#231f20" stroke-width="1.6" stroke-linejoin="miter"/>
<path d="M1225.9 1179.3L1233.2 1192L1218.6 1192Z" fill="#231f20" stroke-width="1.6" stroke-linejoin="miter"/>
<path d="M1288.2 1202.3L1295.5 1215L1280.9 1215Z" fill="#231f20" stroke-width="1.6" stroke-linejoin="miter"/>
<path d="M1039 1212.2L1070.15 1028.8L1101.3 1019.05L1163.6 1067.5L1225.9 1112.2L1288.2 1152.1" fill="none" stroke-width="2.7" stroke-linejoin="round"/>
<line x1="1070.15" y1="1014.5" x2="1070.15" y2="1040" stroke-width="1.5"/>
<line x1="1066.05" y1="1014.5" x2="1074.25" y2="1014.5" stroke-width="1.5"/>
<line x1="1066.05" y1="1040" x2="1074.25" y2="1040" stroke-width="1.5"/>
<line x1="1101.3" y1="1013" x2="1101.3" y2="1036.4" stroke-width="1.5"/>
<line x1="1097.2" y1="1013" x2="1105.4" y2="1013" stroke-width="1.5"/>
<line x1="1097.2" y1="1036.4" x2="1105.4" y2="1036.4" stroke-width="1.5"/>
<line x1="1163.6" y1="1043.9" x2="1163.6" y2="1089" stroke-width="1.5"/>
<line x1="1159.5" y1="1043.9" x2="1167.7" y2="1043.9" stroke-width="1.5"/>
<line x1="1159.5" y1="1089" x2="1167.7" y2="1089" stroke-width="1.5"/>
<line x1="1225.9" y1="1091.1" x2="1225.9" y2="1131.6" stroke-width="1.5"/>
<line x1="1221.8" y1="1091.1" x2="1230" y2="1091.1" stroke-width="1.5"/>
<line x1="1221.8" y1="1131.6" x2="1230" y2="1131.6" stroke-width="1.5"/>
<line x1="1288.2" y1="1134" x2="1288.2" y2="1167.95" stroke-width="1.5"/>
<line x1="1284.1" y1="1134" x2="1292.3" y2="1134" stroke-width="1.5"/>
<line x1="1284.1" y1="1167.95" x2="1292.3" y2="1167.95" stroke-width="1.5"/>
<path d="M1039 1206.1L1046.3 1218.8L1031.7 1218.8Z" fill="#fff" stroke-width="1.6" stroke-linejoin="miter"/>
<path d="M1070.15 1022.7L1077.45 1035.4L1062.85 1035.4Z" fill="#fff" stroke-width="1.6" stroke-linejoin="miter"/>
<path d="M1101.3 1012.95L1108.6 1025.65L1094 1025.65Z" fill="#fff" stroke-width="1.6" stroke-linejoin="miter"/>
<path d="M1163.6 1061.4L1170.9 1074.1L1156.3 1074.1Z" fill="#fff" stroke-width="1.6" stroke-linejoin="miter"/>
<path d="M1225.9 1106.1L1233.2 1118.8L1218.6 1118.8Z" fill="#fff" stroke-width="1.6" stroke-linejoin="miter"/>
<path d="M1288.2 1146L1295.5 1158.7L1280.9 1158.7Z" fill="#fff" stroke-width="1.6" stroke-linejoin="miter"/>
<line x1="1018.2" y1="1007.4" x2="1018.2" y2="1294.6" stroke-width="3.85"/>
<line x1="1006.6" y1="1291.1" x2="1302" y2="1291.1" stroke-width="3.85"/>
<line x1="1006.6" y1="1011" x2="1018.2" y2="1011" stroke-width="3.85"/>
<text transform="translate(1002.8 1021.2) scale(0.96 1)" font-size="38.5" text-anchor="end">25</text>
<line x1="1006.6" y1="1067.02" x2="1018.2" y2="1067.02" stroke-width="3.85"/>
<text transform="translate(1002.8 1077.22) scale(0.96 1)" font-size="38.5" text-anchor="end">20</text>
<line x1="1006.6" y1="1123.04" x2="1018.2" y2="1123.04" stroke-width="3.85"/>
<text transform="translate(1002.8 1133.24) scale(0.96 1)" font-size="38.5" text-anchor="end">15</text>
<line x1="1006.6" y1="1179.06" x2="1018.2" y2="1179.06" stroke-width="3.85"/>
<text transform="translate(1002.8 1189.26) scale(0.96 1)" font-size="38.5" text-anchor="end">10</text>
<line x1="1006.6" y1="1235.08" x2="1018.2" y2="1235.08" stroke-width="3.85"/>
<text transform="translate(1002.8 1245.28) scale(0.96 1)" font-size="38.5" text-anchor="end">5</text>
<text transform="translate(1002.8 1301.3) scale(0.96 1)" font-size="38.5" text-anchor="end">0</text>
<line x1="1039" y1="1291.1" x2="1039" y2="1302.4" stroke-width="3.85"/>
<text transform="translate(1040.5 1334.9) scale(0.96 1)" font-size="38.5" text-anchor="middle">0</text>
<line x1="1101.3" y1="1291.1" x2="1101.3" y2="1302.4" stroke-width="3.85"/>
<text transform="translate(1102.8 1334.9) scale(0.96 1)" font-size="38.5" text-anchor="middle">30</text>
<line x1="1163.6" y1="1291.1" x2="1163.6" y2="1302.4" stroke-width="3.85"/>
<text transform="translate(1165.1 1334.9) scale(0.96 1)" font-size="38.5" text-anchor="middle">60</text>
<line x1="1225.9" y1="1291.1" x2="1225.9" y2="1302.4" stroke-width="3.85"/>
<text transform="translate(1227.4 1334.9) scale(0.96 1)" font-size="38.5" text-anchor="middle">90</text>
<line x1="1288.2" y1="1291.1" x2="1288.2" y2="1302.4" stroke-width="3.85"/>
<text transform="translate(1289.7 1334.9) scale(0.96 1)" font-size="38.5" text-anchor="middle">120</text>
<text transform="translate(949.8 1005.2) rotate(-90) scale(1 1.04)" font-size="37" text-anchor="end">Glycemia (mM)</text>
<text transform="translate(1166.2 1368.4) scale(1 1.04)" font-size="37" text-anchor="middle">Time (min)</text>
<text x="1101.25" y="1006.58" font-size="42" text-anchor="middle" letter-spacing="0.7">*</text>
<text x="1164.25" y="1041.28" font-size="42" text-anchor="middle" letter-spacing="0.7">**</text>
<text x="1226.15" y="1088.28" font-size="42" text-anchor="middle" letter-spacing="0.7">**</text>
<text x="1288.45" y="1131.58" font-size="42" text-anchor="middle" letter-spacing="0.7">**</text>
<line x1="1040" y1="965.1" x2="1293.3" y2="965.1" stroke-width="4" stroke-dasharray="7.4 3.8"/>
<text transform="translate(1148.45 950.6) scale(0.86 1)" font-size="40" text-anchor="start">$</text>
<text x="1185.47" y="946.03" font-size="42" text-anchor="middle" letter-spacing="0.7">**</text>
</g>
<g>
<line x1="652.5" y1="196.9" x2="652.5" y2="221.5" stroke-width="3.6"/>
<line x1="645.5" y1="221.5" x2="657.7" y2="221.5" stroke-width="3.7"/>
<rect x="633" y="68.85" width="39" height="128.05" fill="#fff" stroke-width="3.85" stroke-linejoin="round"/>
<line x1="693.8" y1="171.8" x2="693.8" y2="200.1" stroke-width="3.6"/>
<line x1="686.8" y1="200.1" x2="699" y2="200.1" stroke-width="3.7"/>
<rect x="673.9" y="68.85" width="39.2" height="102.95" fill="#a7a9ac" stroke-width="3.85" stroke-linejoin="round"/>
<line x1="621.8" y1="65.75" x2="621.8" y2="353.18" stroke-width="3.85"/>
<line x1="614.9" y1="68.85" x2="727.7" y2="68.85" stroke-width="3.85"/>
<text transform="translate(609.9 82.1) scale(0.96 1)" font-size="38.5" text-anchor="end">0</text>
<line x1="614.9" y1="139.26" x2="621.8" y2="139.26" stroke-width="3.85"/>
<text transform="translate(609.9 144.65) scale(0.96 1)" font-size="38.5" text-anchor="end">-50</text>
<line x1="614.9" y1="209.6" x2="621.8" y2="209.6" stroke-width="3.85"/>
<text transform="translate(609.9 214.8) scale(0.96 1)" font-size="38.5" text-anchor="end">-100</text>
<line x1="614.9" y1="279.87" x2="621.8" y2="279.87" stroke-width="3.85"/>
<text transform="translate(609.9 284.9) scale(0.96 1)" font-size="38.5" text-anchor="end">-150</text>
<line x1="614.9" y1="350.08" x2="621.8" y2="350.08" stroke-width="3.85"/>
<text transform="translate(609.9 355.2) scale(0.96 1)" font-size="38.5" text-anchor="end">-200</text>
<text transform="translate(526 206) rotate(-90) scale(1 1.04)" font-size="37" text-anchor="middle">AAC (au)</text>
</g>
<g>
<line x1="1575.99" y1="238.6" x2="1575.99" y2="301.5" stroke-width="3.6"/>
<line x1="1568.99" y1="301.5" x2="1581.18" y2="301.5" stroke-width="3.7"/>
<rect x="1555.97" y="69" width="40.03" height="169.6" fill="#fff" stroke-width="3.85" stroke-linejoin="round"/>
<g stroke="none"><circle cx="1566.27" cy="74.5" r="1.3"/><circle cx="1588.77" cy="74.5" r="1.3"/><circle cx="1570.77" cy="79" r="1.3"/><circle cx="1593.27" cy="79" r="1.3"/><circle cx="1575.27" cy="83.5" r="1.3"/><circle cx="1579.77" cy="88" r="1.3"/><circle cx="1561.77" cy="92.5" r="1.3"/><circle cx="1584.27" cy="92.5" r="1.3"/><circle cx="1566.27" cy="97" r="1.3"/><circle cx="1588.77" cy="97" r="1.3"/><circle cx="1570.77" cy="101.5" r="1.3"/><circle cx="1593.27" cy="101.5" r="1.3"/><circle cx="1575.27" cy="106" r="1.3"/><circle cx="1579.77" cy="110.5" r="1.3"/><circle cx="1561.77" cy="115" r="1.3"/><circle cx="1584.27" cy="115" r="1.3"/><circle cx="1566.27" cy="119.5" r="1.3"/><circle cx="1588.77" cy="119.5" r="1.3"/><circle cx="1570.77" cy="124" r="1.3"/><circle cx="1593.27" cy="124" r="1.3"/><circle cx="1575.27" cy="128.5" r="1.3"/><circle cx="1579.77" cy="133" r="1.3"/><circle cx="1561.77" cy="137.5" r="1.3"/><circle cx="1584.27" cy="137.5" r="1.3"/><circle cx="1566.27" cy="142" r="1.3"/><circle cx="1588.77" cy="142" r="1.3"/><circle cx="1570.77" cy="146.5" r="1.3"/><circle cx="1593.27" cy="146.5" r="1.3"/><circle cx="1575.27" cy="151" r="1.3"/><circle cx="1579.77" cy="155.5" r="1.3"/><circle cx="1561.77" cy="160" r="1.3"/><circle cx="1584.27" cy="160" r="1.3"/><circle cx="1566.27" cy="164.5" r="1.3"/><circle cx="1588.77" cy="164.5" r="1.3"/><circle cx="1570.77" cy="169" r="1.3"/><circle cx="1593.27" cy="169" r="1.3"/><circle cx="1575.27" cy="173.5" r="1.3"/><circle cx="1579.77" cy="178" r="1.3"/><circle cx="1561.77" cy="182.5" r="1.3"/><circle cx="1584.27" cy="182.5" r="1.3"/><circle cx="1566.27" cy="187" r="1.3"/><circle cx="1588.77" cy="187" r="1.3"/><circle cx="1570.77" cy="191.5" r="1.3"/><circle cx="1593.27" cy="191.5" r="1.3"/><circle cx="1575.27" cy="196" r="1.3"/><circle cx="1579.77" cy="200.5" r="1.3"/><circle cx="1561.77" cy="205" r="1.3"/><circle cx="1584.27" cy="205" r="1.3"/><circle cx="1566.27" cy="209.5" r="1.3"/><circle cx="1588.77" cy="209.5" r="1.3"/><circle cx="1570.77" cy="214" r="1.3"/><circle cx="1593.27" cy="214" r="1.3"/><circle cx="1575.27" cy="218.5" r="1.3"/><circle cx="1579.77" cy="223" r="1.3"/><circle cx="1561.77" cy="227.5" r="1.3"/><circle cx="1584.27" cy="227.5" r="1.3"/><circle cx="1566.27" cy="232" r="1.3"/><circle cx="1588.77" cy="232" r="1.3"/></g>
<line x1="1617" y1="145" x2="1617" y2="181.2" stroke-width="3.6"/>
<line x1="1610" y1="181.2" x2="1622.2" y2="181.2" stroke-width="3.7"/>
<rect x="1597.7" y="69" width="39.9" height="76" fill="#231f20" stroke-width="3.85" stroke-linejoin="round"/>
<line x1="1544.9" y1="65.9" x2="1544.9" y2="352.4" stroke-width="3.85"/>
<line x1="1538" y1="69" x2="1652" y2="69" stroke-width="3.85"/>
<text transform="translate(1533.7 83.3) scale(0.96 1)" font-size="38.5" text-anchor="end">0</text>
<line x1="1538" y1="139.06" x2="1544.9" y2="139.06" stroke-width="3.85"/>
<text transform="translate(1533.7 146.3) scale(0.96 1)" font-size="38.5" text-anchor="end">-50</text>
<line x1="1538" y1="209.1" x2="1544.9" y2="209.1" stroke-width="3.85"/>
<text transform="translate(1533.7 216.6) scale(0.96 1)" font-size="38.5" text-anchor="end">-100</text>
<line x1="1538" y1="279.2" x2="1544.9" y2="279.2" stroke-width="3.85"/>
<text transform="translate(1533.7 286.7) scale(0.96 1)" font-size="38.5" text-anchor="end">-150</text>
<line x1="1538" y1="349.3" x2="1544.9" y2="349.3" stroke-width="3.85"/>
<text transform="translate(1533.7 356.7) scale(0.96 1)" font-size="38.5" text-anchor="end">-200</text>
<text transform="translate(1449.3 201.5) rotate(-90) scale(1 1.04)" font-size="37" text-anchor="middle">AAC (au)</text>
</g>
<g>
<line x1="653.8" y1="622.5" x2="653.8" y2="613.6" stroke-width="3.6"/>
<line x1="646.8" y1="613.6" x2="659" y2="613.6" stroke-width="3.7"/>
<rect x="634.1" y="622.5" width="39.05" height="195.36" fill="#fff" stroke-width="3.85" stroke-linejoin="round"/>
<line x1="694.4" y1="575.06" x2="694.4" y2="566.95" stroke-width="3.6"/>
<line x1="687.4" y1="566.95" x2="699.6" y2="566.95" stroke-width="3.7"/>
<rect x="675.05" y="575.06" width="38.85" height="242.8" fill="#a7a9ac" stroke-width="3.85" stroke-linejoin="round"/>
<line x1="623.07" y1="531.84" x2="623.07" y2="820.96" stroke-width="3.85"/>
<line x1="616.17" y1="817.86" x2="727.2" y2="817.86" stroke-width="3.85"/>
<line x1="616.17" y1="534.94" x2="623.07" y2="534.94" stroke-width="3.85"/>
<text transform="translate(614.2 541.6) scale(0.96 1)" font-size="38.5" text-anchor="end">1500</text>
<line x1="616.17" y1="628.93" x2="623.07" y2="628.93" stroke-width="3.85"/>
<text transform="translate(614.2 633.55) scale(0.96 1)" font-size="38.5" text-anchor="end">1000</text>
<line x1="616.17" y1="723.2" x2="623.07" y2="723.2" stroke-width="3.85"/>
<text transform="translate(614.2 725.9) scale(0.96 1)" font-size="38.5" text-anchor="end">500</text>
<text transform="translate(614.2 821.9) scale(0.96 1)" font-size="38.5" text-anchor="end">0</text>
<text transform="translate(526 663) rotate(-90) scale(1 1.04)" font-size="37" text-anchor="middle">AUC (au)</text>
<text x="694.15" y="563.68" font-size="42" text-anchor="middle" letter-spacing="0.7">***</text>
</g>
<g>
<line x1="1575.9" y1="583.2" x2="1575.9" y2="576.9" stroke-width="3.6"/>
<line x1="1568.9" y1="576.9" x2="1581.1" y2="576.9" stroke-width="3.7"/>
<rect x="1556.3" y="583.2" width="39.6" height="234.1" fill="#fff" stroke-width="3.85" stroke-linejoin="round"/>
<g stroke="none"><circle cx="1566.43" cy="587.56" r="1.3"/><circle cx="1588.93" cy="587.56" r="1.3"/><circle cx="1570.93" cy="592.06" r="1.3"/><circle cx="1593.43" cy="592.06" r="1.3"/><circle cx="1575.43" cy="596.56" r="1.3"/><circle cx="1579.93" cy="601.06" r="1.3"/><circle cx="1561.93" cy="605.56" r="1.3"/><circle cx="1584.43" cy="605.56" r="1.3"/><circle cx="1566.43" cy="610.06" r="1.3"/><circle cx="1588.93" cy="610.06" r="1.3"/><circle cx="1570.93" cy="614.56" r="1.3"/><circle cx="1593.43" cy="614.56" r="1.3"/><circle cx="1575.43" cy="619.06" r="1.3"/><circle cx="1579.93" cy="623.56" r="1.3"/><circle cx="1561.93" cy="628.06" r="1.3"/><circle cx="1584.43" cy="628.06" r="1.3"/><circle cx="1566.43" cy="632.56" r="1.3"/><circle cx="1588.93" cy="632.56" r="1.3"/><circle cx="1570.93" cy="637.06" r="1.3"/><circle cx="1593.43" cy="637.06" r="1.3"/><circle cx="1575.43" cy="641.56" r="1.3"/><circle cx="1579.93" cy="646.06" r="1.3"/><circle cx="1561.93" cy="650.56" r="1.3"/><circle cx="1584.43" cy="650.56" r="1.3"/><circle cx="1566.43" cy="655.06" r="1.3"/><circle cx="1588.93" cy="655.06" r="1.3"/><circle cx="1570.93" cy="659.56" r="1.3"/><circle cx="1593.43" cy="659.56" r="1.3"/><circle cx="1575.43" cy="664.06" r="1.3"/><circle cx="1579.93" cy="668.56" r="1.3"/><circle cx="1561.93" cy="673.06" r="1.3"/><circle cx="1584.43" cy="673.06" r="1.3"/><circle cx="1566.43" cy="677.56" r="1.3"/><circle cx="1588.93" cy="677.56" r="1.3"/><circle cx="1570.93" cy="682.06" r="1.3"/><circle cx="1593.43" cy="682.06" r="1.3"/><circle cx="1575.43" cy="686.56" r="1.3"/><circle cx="1579.93" cy="691.06" r="1.3"/><circle cx="1561.93" cy="695.56" r="1.3"/><circle cx="1584.43" cy="695.56" r="1.3"/><circle cx="1566.43" cy="700.06" r="1.3"/><circle cx="1588.93" cy="700.06" r="1.3"/><circle cx="1570.93" cy="704.56" r="1.3"/><circle cx="1593.43" cy="704.56" r="1.3"/><circle cx="1575.43" cy="709.06" r="1.3"/><circle cx="1579.93" cy="713.56" r="1.3"/><circle cx="1561.93" cy="718.06" r="1.3"/><circle cx="1584.43" cy="718.06" r="1.3"/><circle cx="1566.43" cy="722.56" r="1.3"/><circle cx="1588.93" cy="722.56" r="1.3"/><circle cx="1570.93" cy="727.06" r="1.3"/><circle cx="1593.43" cy="727.06" r="1.3"/><circle cx="1575.43" cy="731.56" r="1.3"/><circle cx="1579.93" cy="736.06" r="1.3"/><circle cx="1561.93" cy="740.56" r="1.3"/><circle cx="1584.43" cy="740.56" r="1.3"/><circle cx="1566.43" cy="745.06" r="1.3"/><circle cx="1588.93" cy="745.06" r="1.3"/><circle cx="1570.93" cy="749.56" r="1.3"/><circle cx="1593.43" cy="749.56" r="1.3"/><circle cx="1575.43" cy="754.06" r="1.3"/><circle cx="1579.93" cy="758.56" r="1.3"/><circle cx="1561.93" cy="763.06" r="1.3"/><circle cx="1584.43" cy="763.06" r="1.3"/><circle cx="1566.43" cy="767.56" r="1.3"/><circle cx="1588.93" cy="767.56" r="1.3"/><circle cx="1570.93" cy="772.06" r="1.3"/><circle cx="1593.43" cy="772.06" r="1.3"/><circle cx="1575.43" cy="776.56" r="1.3"/><circle cx="1579.93" cy="781.06" r="1.3"/><circle cx="1561.93" cy="785.56" r="1.3"/><circle cx="1584.43" cy="785.56" r="1.3"/><circle cx="1566.43" cy="790.06" r="1.3"/><circle cx="1588.93" cy="790.06" r="1.3"/><circle cx="1570.93" cy="794.56" r="1.3"/><circle cx="1593.43" cy="794.56" r="1.3"/><circle cx="1575.43" cy="799.06" r="1.3"/><circle cx="1579.93" cy="803.56" r="1.3"/><circle cx="1561.93" cy="808.06" r="1.3"/><circle cx="1584.43" cy="808.06" r="1.3"/><circle cx="1566.43" cy="812.56" r="1.3"/><circle cx="1588.93" cy="812.56" r="1.3"/></g>
<line x1="1617.5" y1="558.8" x2="1617.5" y2="549.96" stroke-width="3.6"/>
<line x1="1610.5" y1="549.96" x2="1622.7" y2="549.96" stroke-width="3.7"/>
<rect x="1597.8" y="558.8" width="39.9" height="258.5" fill="#231f20" stroke-width="3.85" stroke-linejoin="round"/>
<line x1="1545.2" y1="531" x2="1545.2" y2="820.4" stroke-width="3.85"/>
<line x1="1538.3" y1="817.3" x2="1652" y2="817.3" stroke-width="3.85"/>
<line x1="1538.3" y1="534.1" x2="1545.2" y2="534.1" stroke-width="3.85"/>
<text transform="translate(1534.3 541.4) scale(0.96 1)" font-size="38.5" text-anchor="end">1500</text>
<line x1="1538.3" y1="628.3" x2="1545.2" y2="628.3" stroke-width="3.85"/>
<text transform="translate(1534.3 633.5) scale(0.96 1)" font-size="38.5" text-anchor="end">1000</text>
<line x1="1538.3" y1="722.6" x2="1545.2" y2="722.6" stroke-width="3.85"/>
<text transform="translate(1534.3 726.2) scale(0.96 1)" font-size="38.5" text-anchor="end">500</text>
<text transform="translate(1534.3 822) scale(0.96 1)" font-size="38.5" text-anchor="end">0</text>
<text transform="translate(1449.3 663) rotate(-90) scale(1 1.04)" font-size="37" text-anchor="middle">AUC (au)</text>
<text x="1617.45" y="545.08" font-size="42" text-anchor="middle" letter-spacing="0.7">*</text>
</g>
<g>
<line x1="653.1" y1="1120.5" x2="653.1" y2="1110.6" stroke-width="3.6"/>
<line x1="646.1" y1="1110.6" x2="658.3" y2="1110.6" stroke-width="3.7"/>
<rect x="633.3" y="1120.5" width="39.4" height="174.4" fill="#fff" stroke-width="3.85" stroke-linejoin="round"/>
<line x1="694.2" y1="1091.8" x2="694.2" y2="1084.4" stroke-width="3.6"/>
<line x1="687.2" y1="1084.4" x2="699.4" y2="1084.4" stroke-width="3.7"/>
<rect x="674.4" y="1091.8" width="39.4" height="203.1" fill="#a7a9ac" stroke-width="3.85" stroke-linejoin="round"/>
<line x1="622.3" y1="1007.6" x2="622.3" y2="1298" stroke-width="3.85"/>
<line x1="615.4" y1="1294.9" x2="726.8" y2="1294.9" stroke-width="3.85"/>
<line x1="615.4" y1="1010.7" x2="622.3" y2="1010.7" stroke-width="3.85"/>
<text transform="translate(613 1014.2) scale(0.96 1)" font-size="38.5" text-anchor="end">2400</text>
<line x1="615.4" y1="1105.9" x2="622.3" y2="1105.9" stroke-width="3.85"/>
<text transform="translate(613 1108.4) scale(0.96 1)" font-size="38.5" text-anchor="end">1600</text>
<line x1="615.4" y1="1200.4" x2="622.3" y2="1200.4" stroke-width="3.85"/>
<text transform="translate(613 1203.4) scale(0.96 1)" font-size="38.5" text-anchor="end">800</text>
<text transform="translate(613 1303.3) scale(0.96 1)" font-size="38.5" text-anchor="end">0</text>
<text transform="translate(522 1140.3) rotate(-90) scale(1 1.04)" font-size="37" text-anchor="middle">AUC (au)</text>
<text x="694.35" y="1079.68" font-size="42" text-anchor="middle" letter-spacing="0.7">*</text>
</g>
<g>
<line x1="1577.9" y1="1034.7" x2="1577.9" y2="1013.3" stroke-width="3.6"/>
<line x1="1570.9" y1="1013.3" x2="1583.1" y2="1013.3" stroke-width="3.7"/>
<rect x="1558.6" y="1034.7" width="38.9" height="260" fill="#fff" stroke-width="3.85" stroke-linejoin="round"/>
<g stroke="none"><circle cx="1570.68" cy="1038.1" r="1.3"/><circle cx="1593.18" cy="1038.1" r="1.3"/><circle cx="1575.18" cy="1042.6" r="1.3"/><circle cx="1579.68" cy="1047.1" r="1.3"/><circle cx="1561.68" cy="1051.6" r="1.3"/><circle cx="1584.18" cy="1051.6" r="1.3"/><circle cx="1566.18" cy="1056.1" r="1.3"/><circle cx="1588.68" cy="1056.1" r="1.3"/><circle cx="1570.68" cy="1060.6" r="1.3"/><circle cx="1593.18" cy="1060.6" r="1.3"/><circle cx="1575.18" cy="1065.1" r="1.3"/><circle cx="1579.68" cy="1069.6" r="1.3"/><circle cx="1561.68" cy="1074.1" r="1.3"/><circle cx="1584.18" cy="1074.1" r="1.3"/><circle cx="1566.18" cy="1078.6" r="1.3"/><circle cx="1588.68" cy="1078.6" r="1.3"/><circle cx="1570.68" cy="1083.1" r="1.3"/><circle cx="1593.18" cy="1083.1" r="1.3"/><circle cx="1575.18" cy="1087.6" r="1.3"/><circle cx="1579.68" cy="1092.1" r="1.3"/><circle cx="1561.68" cy="1096.6" r="1.3"/><circle cx="1584.18" cy="1096.6" r="1.3"/><circle cx="1566.18" cy="1101.1" r="1.3"/><circle cx="1588.68" cy="1101.1" r="1.3"/><circle cx="1570.68" cy="1105.6" r="1.3"/><circle cx="1593.18" cy="1105.6" r="1.3"/><circle cx="1575.18" cy="1110.1" r="1.3"/><circle cx="1579.68" cy="1114.6" r="1.3"/><circle cx="1561.68" cy="1119.1" r="1.3"/><circle cx="1584.18" cy="1119.1" r="1.3"/><circle cx="1566.18" cy="1123.6" r="1.3"/><circle cx="1588.68" cy="1123.6" r="1.3"/><circle cx="1570.68" cy="1128.1" r="1.3"/><circle cx="1593.18" cy="1128.1" r="1.3"/><circle cx="1575.18" cy="1132.6" r="1.3"/><circle cx="1579.68" cy="1137.1" r="1.3"/><circle cx="1561.68" cy="1141.6" r="1.3"/><circle cx="1584.18" cy="1141.6" r="1.3"/><circle cx="1566.18" cy="1146.1" r="1.3"/><circle cx="1588.68" cy="1146.1" r="1.3"/><circle cx="1570.68" cy="1150.6" r="1.3"/><circle cx="1593.18" cy="1150.6" r="1.3"/><circle cx="1575.18" cy="1155.1" r="1.3"/><circle cx="1579.68" cy="1159.6" r="1.3"/><circle cx="1561.68" cy="1164.1" r="1.3"/><circle cx="1584.18" cy="1164.1" r="1.3"/><circle cx="1566.18" cy="1168.6" r="1.3"/><circle cx="1588.68" cy="1168.6" r="1.3"/><circle cx="1570.68" cy="1173.1" r="1.3"/><circle cx="1593.18" cy="1173.1" r="1.3"/><circle cx="1575.18" cy="1177.6" r="1.3"/><circle cx="1579.68" cy="1182.1" r="1.3"/><circle cx="1561.68" cy="1186.6" r="1.3"/><circle cx="1584.18" cy="1186.6" r="1.3"/><circle cx="1566.18" cy="1191.1" r="1.3"/><circle cx="1588.68" cy="1191.1" r="1.3"/><circle cx="1570.68" cy="1195.6" r="1.3"/><circle cx="1593.18" cy="1195.6" r="1.3"/><circle cx="1575.18" cy="1200.1" r="1.3"/><circle cx="1579.68" cy="1204.6" r="1.3"/><circle cx="1561.68" cy="1209.1" r="1.3"/><circle cx="1584.18" cy="1209.1" r="1.3"/><circle cx="1566.18" cy="1213.6" r="1.3"/><circle cx="1588.68" cy="1213.6" r="1.3"/><circle cx="1570.68" cy="1218.1" r="1.3"/><circle cx="1593.18" cy="1218.1" r="1.3"/><circle cx="1575.18" cy="1222.6" r="1.3"/><circle cx="1579.68" cy="1227.1" r="1.3"/><circle cx="1561.68" cy="1231.6" r="1.3"/><circle cx="1584.18" cy="1231.6" r="1.3"/><circle cx="1566.18" cy="1236.1" r="1.3"/><circle cx="1588.68" cy="1236.1" r="1.3"/><circle cx="1570.68" cy="1240.6" r="1.3"/><circle cx="1593.18" cy="1240.6" r="1.3"/><circle cx="1575.18" cy="1245.1" r="1.3"/><circle cx="1579.68" cy="1249.6" r="1.3"/><circle cx="1561.68" cy="1254.1" r="1.3"/><circle cx="1584.18" cy="1254.1" r="1.3"/><circle cx="1566.18" cy="1258.6" r="1.3"/><circle cx="1588.68" cy="1258.6" r="1.3"/><circle cx="1570.68" cy="1263.1" r="1.3"/><circle cx="1593.18" cy="1263.1" r="1.3"/><circle cx="1575.18" cy="1267.6" r="1.3"/><circle cx="1579.68" cy="1272.1" r="1.3"/><circle cx="1561.68" cy="1276.6" r="1.3"/><circle cx="1584.18" cy="1276.6" r="1.3"/><circle cx="1566.18" cy="1281.1" r="1.3"/><circle cx="1588.68" cy="1281.1" r="1.3"/><circle cx="1570.68" cy="1285.6" r="1.3"/><circle cx="1593.18" cy="1285.6" r="1.3"/><circle cx="1575.18" cy="1290.1" r="1.3"/></g>
<line x1="1618.2" y1="1104.2" x2="1618.2" y2="1094.2" stroke-width="3.6"/>
<line x1="1611.2" y1="1094.2" x2="1623.4" y2="1094.2" stroke-width="3.7"/>
<rect x="1597.6" y="1104.2" width="40" height="190.5" fill="#231f20" stroke-width="3.85" stroke-linejoin="round"/>
<line x1="1547.5" y1="1009.1" x2="1547.5" y2="1297.8" stroke-width="3.85"/>
<line x1="1540.6" y1="1294.7" x2="1652" y2="1294.7" stroke-width="3.85"/>
<line x1="1540.6" y1="1012.2" x2="1547.5" y2="1012.2" stroke-width="3.85"/>
<text transform="translate(1534.8 1015.3) scale(0.96 1)" font-size="38.5" text-anchor="end">2400</text>
<line x1="1540.6" y1="1106.3" x2="1547.5" y2="1106.3" stroke-width="3.85"/>
<text transform="translate(1534.8 1110.3) scale(0.96 1)" font-size="38.5" text-anchor="end">1600</text>
<line x1="1540.6" y1="1200.5" x2="1547.5" y2="1200.5" stroke-width="3.85"/>
<text transform="translate(1534.8 1205.1) scale(0.96 1)" font-size="38.5" text-anchor="end">800</text>
<text transform="translate(1534.8 1304.4) scale(0.96 1)" font-size="38.5" text-anchor="end">0</text>
<text transform="translate(1448.3 1151.9) rotate(-90) scale(1 1.04)" font-size="37" text-anchor="middle">AUC (au)</text>
<text x="1617.85" y="1090.48" font-size="42" text-anchor="middle" letter-spacing="0.7">**</text>
</g>
<g stroke="#38383a" stroke-linecap="round">
<line x1="431.3" y1="1478.9" x2="474.8" y2="1478.9" stroke-width="2.6"/>
<rect x="446.55" y="1472.4" width="13" height="13" fill="#fff" stroke-width="2.5"/>
<text transform="translate(489.7 1488.8) scale(1 1.04)" font-size="37" text-anchor="start">Cpt1mt<tspan font-size="22.2" dy="-10.4" dx="1.5">fl/fl</tspan></text>
<text transform="translate(656.2 1488.8) scale(1 1.04)" font-size="37" text-anchor="start">CD</text>
<rect x="728.75" y="1459.9" width="28.05" height="30.3" fill="#fff" stroke="#231f20" stroke-width="3.4"/>
<line x1="429.85" y1="1538.1" x2="434.8" y2="1538.1" stroke-width="3"/>
<line x1="440.5" y1="1538.1" x2="446" y2="1538.1" stroke-width="3"/>
<line x1="460" y1="1538.1" x2="465.35" y2="1538.1" stroke-width="3"/>
<line x1="471.6" y1="1538.1" x2="476.25" y2="1538.1" stroke-width="3"/>
<rect x="446.45" y="1531.7" width="13" height="13" fill="#808285" stroke-width="2.5"/>
<text transform="translate(492.4 1547.8) scale(1 1.04)" font-size="37" text-anchor="start">iCPT1mt CD</text>
<rect x="728.75" y="1519.05" width="28.05" height="30.45" fill="#a7a9ac" stroke="#231f20" stroke-width="3.4"/>
<line x1="885.2" y1="1478.55" x2="928.9" y2="1478.55" stroke-width="2"/>
<path d="M907.05 1471.8L914.45 1486.05L899.65 1486.05Z" fill="#fff" stroke-width="2" stroke-linejoin="miter"/>
<text transform="translate(946.2 1488.8) scale(1 1.04)" font-size="37" text-anchor="start">Cpt1mt<tspan font-size="22.2" dy="-10.4" dx="1.6">fl/fl</tspan></text>
<text transform="translate(1112.8 1488.8) scale(1 1.04)" font-size="37" text-anchor="start">HFD</text>
<rect x="1204.1" y="1459.9" width="28.05" height="30.3" fill="#fff" stroke="#231f20" stroke-width="3.4"/>
<g stroke="none" fill="#231f20"><circle cx="1214.06" cy="1462.8" r="1.2"/><circle cx="1218.6" cy="1467.4" r="1.2"/><circle cx="1223.06" cy="1471.9" r="1.2"/><circle cx="1227.47" cy="1476.4" r="1.2"/><circle cx="1209.7" cy="1480.8" r="1.2"/><circle cx="1214.2" cy="1485.4" r="1.2"/></g>
<line x1="881.5" y1="1537.8" x2="887.2" y2="1537.8" stroke-width="3"/>
<line x1="892.7" y1="1537.8" x2="898.3" y2="1537.8" stroke-width="3"/>
<line x1="915.1" y1="1537.8" x2="920.4" y2="1537.8" stroke-width="3"/>
<line x1="926.3" y1="1537.8" x2="930.6" y2="1537.8" stroke-width="3"/>
<path d="M907.2 1528.6L916.25 1546.6L898.15 1546.6Z" fill="#333" stroke="none"/>
<text transform="translate(948.8 1547.8) scale(1 1.04)" font-size="37" text-anchor="start">iCPT1mt HFD</text>
<rect x="1204.1" y="1519.05" width="28.05" height="30.45" fill="#231f20" stroke="#231f20" stroke-width="3.4"/>
</g>
</svg></body></html>
